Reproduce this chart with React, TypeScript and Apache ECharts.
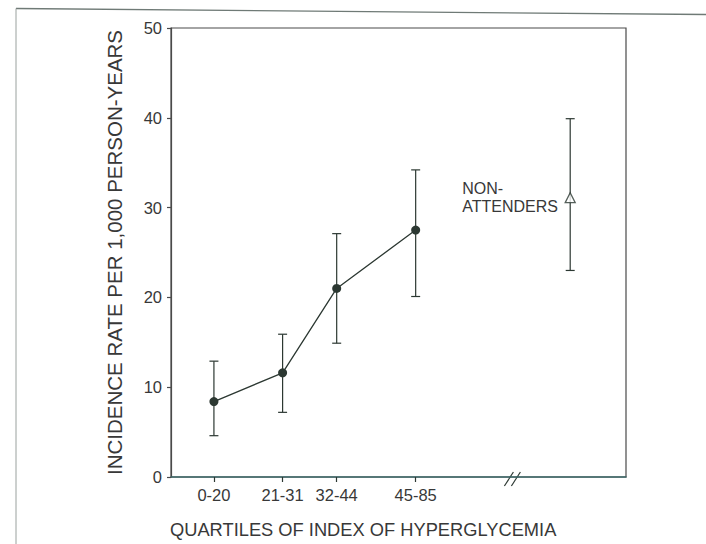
import React, { useEffect, useRef } from 'react';
import * as echarts from 'echarts';

// Quartile categories of the index of hyperglycemia, plotted at their index position
const categories = ['0-20', '21-31', '32-44', '45-85'];
const xPositions = [10, 26, 38.6, 57];
const rates = [8.4, 11.6, 21.0, 27.5];
const lowerBounds = [4.6, 7.2, 14.9, 20.1];
const upperBounds = [12.9, 15.9, 27.1, 34.2];

// Non-attenders
const nonAttenderLabel = 'NON-\nATTENDERS';
const nonAttenderX = [93];
const nonAttenderRate = [31.1];
const nonAttenderLower = [23.0];
const nonAttenderUpper = [39.9];

const yTicks = [0, 10, 20, 30, 40, 50];
const xMin = 0;
const xMax = 106;
const axisBreakAt = 80;

const yTitle = 'INCIDENCE RATE PER 1,000 PERSON-YEARS';
const xTitle = 'QUARTILES OF INDEX OF HYPERGLYCEMIA';

const INK = '#2c3832';
const TEXT = '#383838';
const FONT = '"Liberation Sans", Arial, sans-serif';

export default function App() {
  const ref = useRef<HTMLDivElement>(null);

  useEffect(() => {
    const chart = echarts.init(ref.current!, null, { renderer: 'svg' });

    const errData = xPositions
      .map((x, i) => [x, lowerBounds[i], upperBounds[i]])
      .concat(nonAttenderX.map((x, i) => [x, nonAttenderLower[i], nonAttenderUpper[i]]));

    const option: any = {
      animation: false,
      backgroundColor: '#ffffff',
      grid: {
        left: 171,
        right: 80,
        top: 28,
        bottom: 67,
        show: true,
        borderColor: '#4a4a4a',
        borderWidth: 1.2,
        containLabel: false,
        outerBoundsMode: 'none',
      },
      xAxis: {
        type: 'value',
        min: xMin,
        max: xMax,
        splitLine: { show: false },
        axisLine: { show: true, lineStyle: { color: '#3d6868', width: 1.5 } },
        axisTick: {
          show: true,
          customValues: xPositions,
          length: 5,
          lineStyle: { color: INK, width: 1.2 },
        },
        axisLabel: {
          customValues: xPositions,
          margin: 9,
          fontSize: 16.5,
          fontFamily: FONT,
          color: TEXT,
          formatter: (v: number) => {
            const i = xPositions.findIndex((p) => Math.abs(p - v) < 0.01);
            return i >= 0 ? categories[i] : '';
          },
        },
      },
      yAxis: {
        type: 'value',
        min: yTicks[0],
        max: yTicks[yTicks.length - 1],
        interval: 10,
        splitLine: { show: false },
        axisLine: { show: true, lineStyle: { color: '#4a4a4a', width: 1.2 } },
        axisTick: { show: true, length: 4, lineStyle: { color: '#4a4a4a', width: 1.2 } },
        axisLabel: { margin: 9, fontSize: 16.5, fontFamily: FONT, color: TEXT },
        name: yTitle,
        nameLocation: 'middle',
        nameGap: 46,
        nameTextStyle: { fontSize: 20.5, fontFamily: FONT, color: TEXT },
      },
      series: [
        {
          type: 'custom',
          z: 2,
          data: errData,
          encode: { x: 0, y: [1, 2] },
          renderItem: (params: any, api: any) => {
            const x = api.value(0);
            const lo = api.coord([x, api.value(1)]);
            const hi = api.coord([x, api.value(2)]);
            const cap = 4.5;
            const style = { stroke: INK, lineWidth: 1.2 };
            return {
              type: 'group',
              children: [
                { type: 'line', shape: { x1: lo[0], y1: lo[1], x2: hi[0], y2: hi[1] }, style },
                { type: 'line', shape: { x1: lo[0] - cap, y1: lo[1], x2: lo[0] + cap, y2: lo[1] }, style },
                { type: 'line', shape: { x1: hi[0] - cap, y1: hi[1], x2: hi[0] + cap, y2: hi[1] }, style },
              ],
            };
          },
        },
        {
          type: 'line',
          z: 3,
          data: xPositions.map((x, i) => [x, rates[i]]),
          symbol: 'circle',
          symbolSize: 9,
          lineStyle: { color: INK, width: 1.3 },
          itemStyle: { color: INK },
        },
        {
          type: 'scatter',
          z: 4,
          data: nonAttenderX.map((x, i) => [x, nonAttenderRate[i]]),
          symbol: 'triangle',
          symbolSize: 10,
          itemStyle: { color: '#ffffff', borderColor: INK, borderWidth: 1.3 },
        },
      ],
    };

    chart.setOption(option);

    const breakPt = chart.convertToPixel({ gridIndex: 0 }, [axisBreakAt, 0]) as number[];
    const naPt = chart.convertToPixel({ gridIndex: 0 }, [nonAttenderX[0], nonAttenderRate[0]]) as number[];
    const bx = breakPt[0];
    const by = breakPt[1];

    chart.setOption({
      graphic: [
        // scan page edges
        { type: 'line', shape: { x1: 16, y1: 8.5, x2: 706, y2: 14.5 }, style: { stroke: '#6f7a76', lineWidth: 1.3 }, silent: true },
        { type: 'line', shape: { x1: 16, y1: 8.5, x2: 16, y2: 544 }, style: { stroke: '#9aa19e', lineWidth: 1 }, silent: true },
        // axis break mark
        { type: 'line', shape: { x1: bx - 10, y1: by + 9, x2: bx - 1, y2: by - 5 }, style: { stroke: INK, lineWidth: 1.2 }, silent: true },
        { type: 'line', shape: { x1: bx - 3, y1: by + 9, x2: bx + 6, y2: by - 5 }, style: { stroke: INK, lineWidth: 1.2 }, silent: true },
        // non-attenders label
        {
          type: 'text',
          x: naPt[0] - 108,
          y: naPt[1],
          style: {
            text: nonAttenderLabel,
            fontSize: 16,
            lineHeight: 18,
            fontFamily: FONT,
            fill: TEXT,
            textAlign: 'left',
            textVerticalAlign: 'middle',
          },
          silent: true,
        },
        // x axis title
        {
          type: 'text',
          x: 170,
          y: 529,
          style: {
            text: xTitle,
            fontSize: 18.3,
            fontFamily: FONT,
            fill: TEXT,
            textAlign: 'left',
            textVerticalAlign: 'middle',
          },
          silent: true,
        },
      ],
    });

    return () => chart.dispose();
  }, []);

  return (
    <div
      ref={ref}
      style={{ position: 'absolute', left: 0, top: 0, width: 706, height: 544, background: '#ffffff' }}
    />
  );
}
